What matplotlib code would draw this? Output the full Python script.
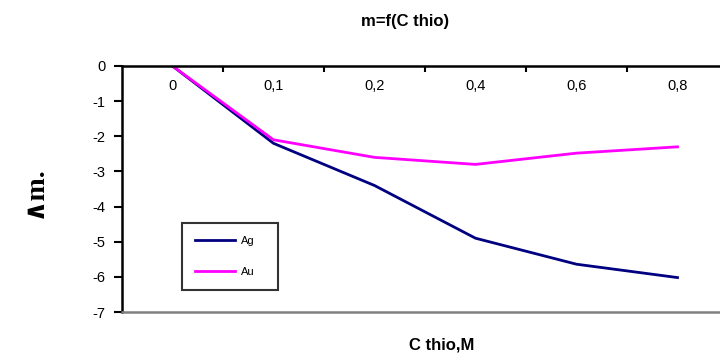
import matplotlib
matplotlib.use("Agg")
import matplotlib.pyplot as plt

categories = ["0", "0,1", "0,2", "0,4", "0,6", "0,8"]
ag_values = [0, -2.2, -3.4, -4.9, -5.64, -6.02]
au_values = [0, -2.1, -2.6, -2.8, -2.48, -2.3]
y_ticks = [0, -1, -2, -3, -4, -5, -6, -7]

plt.rcParams['font.family'] = ['Liberation Sans', 'DejaVu Sans']

fig = plt.figure(figsize=(7.2, 3.61), dpi=100)
ax = fig.add_axes([0.1694, 0.1357, 0.8417, 0.6815])

x = list(range(len(categories)))
ax.plot(x, ag_values, color="#000080", lw=2, label="Ag")
ax.plot(x, au_values, color="#FF00FF", lw=2, label="Au")

ax.set_xlim(-0.5, 5.5)
ax.set_ylim(-7, 0)
ax.set_yticks(y_ticks)
ax.set_yticklabels([str(v) for v in y_ticks], fontsize=10.5)

# x category labels inside, under top spine
ax.xaxis.set_ticks_position('top')
ax.set_xticks([i + 0.5 for i in range(len(categories) - 1)])
ax.set_xticklabels([])
ax.tick_params(axis='x', direction='in', length=4, width=1.5, color='black')
for i, c in enumerate(categories):
    ax.text(i, -0.57, c, ha='center', va='center', fontsize=10.5)

ax.tick_params(axis='y', direction='out', length=6, width=1.5, pad=6)
ax.spines['right'].set_visible(False)
ax.spines['top'].set_linewidth(1.8)
ax.spines['left'].set_linewidth(1.8)
ax.spines['bottom'].set_color('#808080')
ax.spines['bottom'].set_linewidth(1.8)

fig.text(0.5625, 0.94, "m=f(C thio)", ha='center', va='center', fontsize=12, fontweight='bold')
fig.text(0.614, 0.045, "C thio,M", ha='center', va='center', fontsize=12, fontweight='bold')
fig.text(0.048, 0.47, "∧m.", ha='center', va='center', rotation=90, fontsize=20,
         fontweight='bold', family=['Liberation Serif', 'DejaVu Serif'])

leg = ax.legend(loc='upper left', bbox_to_anchor=(0.099, 0.3537, 0.158, 0.01), mode='expand',
                fontsize=8, frameon=True, fancybox=False, edgecolor='black', handlelength=3.6,
                labelspacing=1.9, borderpad=1.2, handletextpad=0.5, borderaxespad=0)
leg.get_frame().set_linewidth(1.5)

fig.savefig("out.png", dpi=100)
